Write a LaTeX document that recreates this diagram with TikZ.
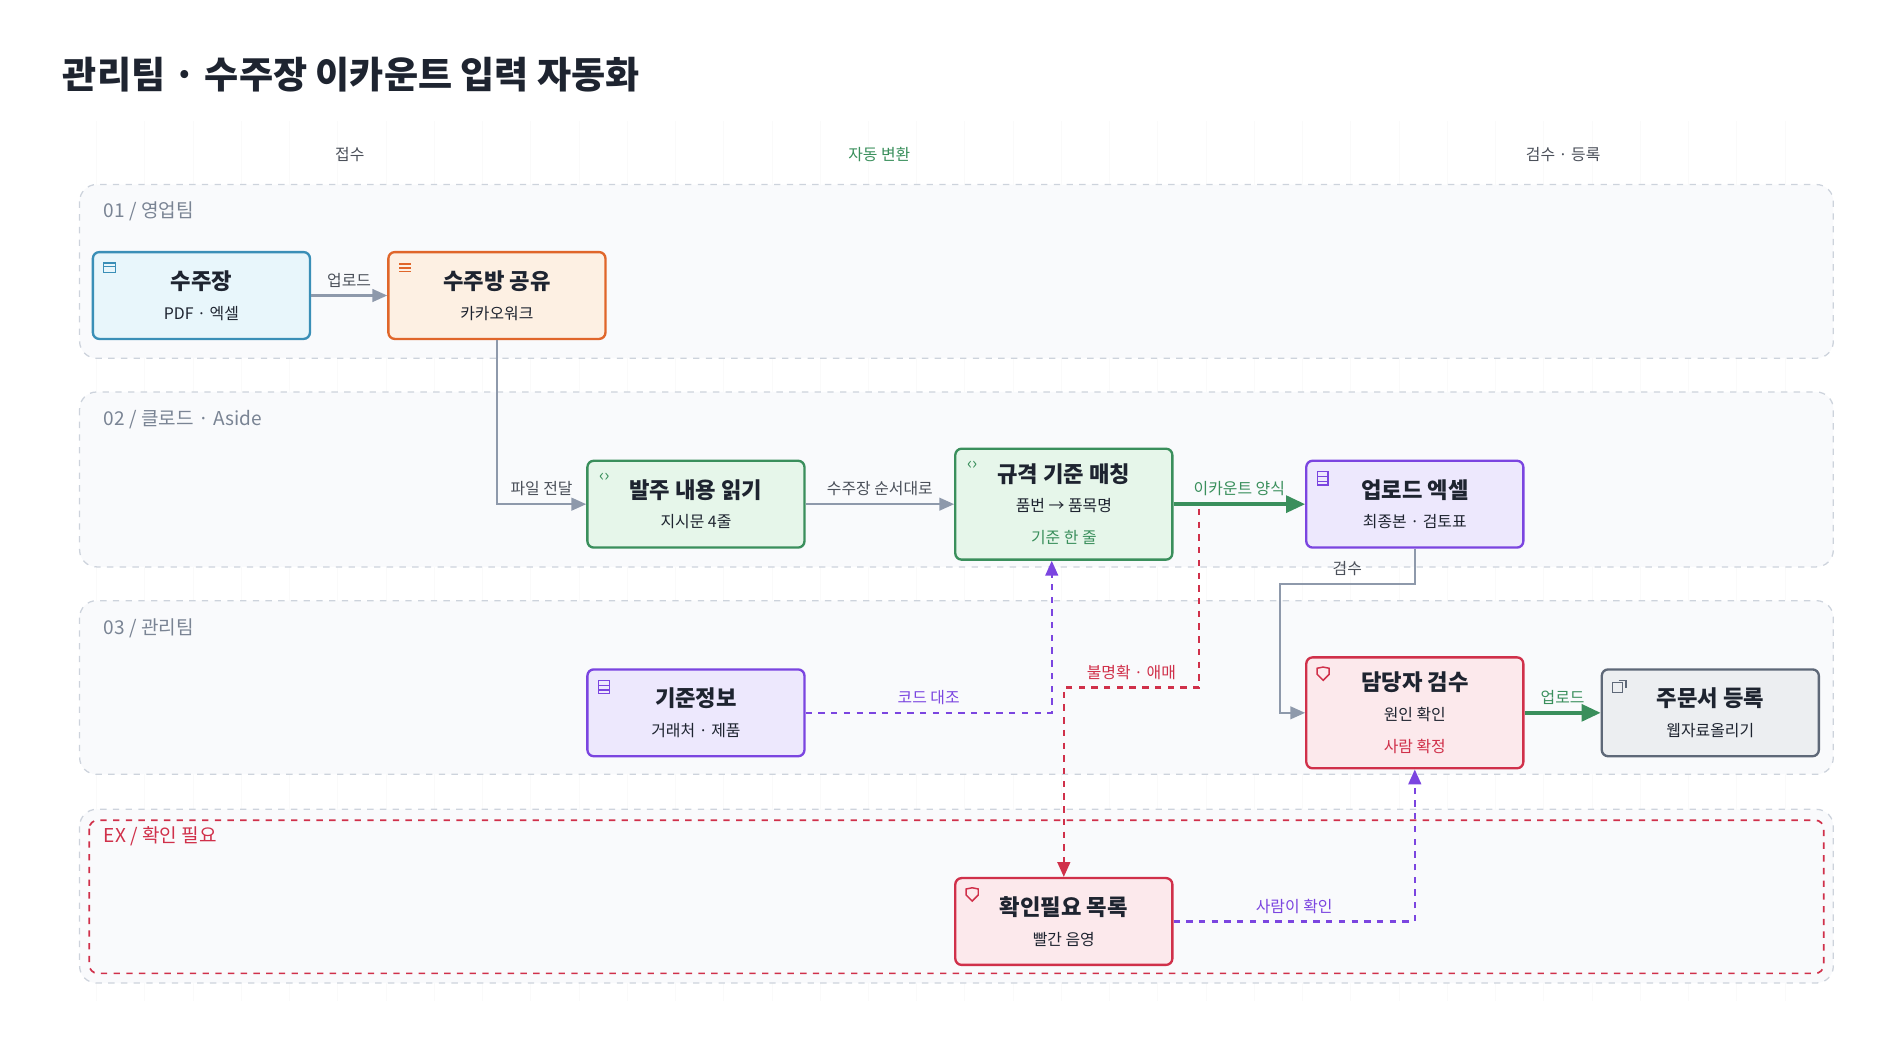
\documentclass[tikz,border=0pt]{standalone}
\usepackage{fontspec}
\setmainfont{Noto Sans CJK KR}
\usetikzlibrary{positioning, arrows.meta}
\definecolor{lanefill}{HTML}{F9FAFC}
\definecolor{lanedraw}{HTML}{CDD3DC}
\definecolor{bluefill}{HTML}{E8F6FB}
\definecolor{bluedraw}{HTML}{3A8FB7}
\definecolor{orfill}{HTML}{FDF0E3}
\definecolor{ordraw}{HTML}{E0662A}
\definecolor{grfill}{HTML}{E6F6EA}
\definecolor{grdraw}{HTML}{3A8F5C}
\definecolor{pufill}{HTML}{EDE8FD}
\definecolor{pudraw}{HTML}{7B45E0}
\definecolor{refill}{HTML}{FCE9EC}
\definecolor{redraw}{HTML}{D0304A}
\definecolor{gyfill}{HTML}{ECEEF1}
\definecolor{gydraw}{HTML}{5E6878}
\definecolor{edgegray}{HTML}{8E99AB}
\definecolor{lanetext}{HTML}{7A8494}
\definecolor{ink}{HTML}{1E2430}
\tikzstyle{lane} = [draw=lanedraw, fill=lanefill, dashed, rounded corners=8pt, line width=0.6pt]
\tikzstyle{box} = [rectangle, rounded corners=3pt, minimum width=3.6cm, minimum height=1.44cm, text centered, align=center, line width=1.1pt, text=ink]
\tikzstyle{arrow} = [line width=1pt, draw=edgegray, -{Triangle[length=7pt,width=6pt]}]
\tikzstyle{garrow} = [line width=1.6pt, draw=grdraw, -{Triangle[length=9pt,width=8pt]}]
\tikzstyle{elabel} = [font=\fontsize{7.5}{9}\selectfont, text=ink!80]
\tikzstyle{lanelabel} = [anchor=west, font=\fontsize{9}{11}\selectfont, text=lanetext]
\newcommand{\btitle}[1]{{\fontsize{10.5}{13}\selectfont\bfseries #1}}
\newcommand{\bsub}[1]{{\fontsize{7.5}{10}\selectfont #1}}

\begin{document}
\begin{tikzpicture}[x=0.02cm, y=-0.02cm]
	\useasboundingbox (0,0) rectangle (1567,862);
	% faint grid
	\draw[black!2, line width=0.4pt, step=40] (48,100) grid (1500,830);

	\node[anchor=west, font=\fontsize{17.5}{20}\selectfont\bfseries, text=ink] (title) at (46,62) {관리팀 · 수주장 이카운트 입력 자동화};
	\node[elabel] (h1) at (290,128) {접수};
	\node[elabel, text=grdraw] (h2) at (729,128) {자동 변환};
	\node[elabel] (h3) at (1296,128) {검수 · 등록};

	% lanes
	\draw[lane] (66,153) rectangle (1520,297);
	\draw[lane] (66,325) rectangle (1520,470);
	\draw[lane] (66,498) rectangle (1520,642);
	\draw[lane] (66,671) rectangle (1520,815);
	\draw[draw=redraw, dashed, line width=0.8pt, rounded corners=4pt] (74,680) rectangle (1512,807);
	\node[lanelabel] (l1) at (80,175) {01 / 영업팀};
	\node[lanelabel] (l2) at (80,348) {02 / 클로드 · Aside};
	\node[lanelabel] (l3) at (80,521) {03 / 관리팀};
	\node[lanelabel, text=redraw] (l4) at (80,693) {EX / 확인 필요};

	% nodes
	\node (order) [box, fill=bluefill, draw=bluedraw] at (167,245) {\btitle{수주장}\\[2pt]\bsub{PDF · 엑셀}};
	\node (room) [box, fill=orfill, draw=ordraw] at (412,245) {\btitle{수주방 공유}\\[2pt]\bsub{카카오워크}};
	\node (read) [box, fill=grfill, draw=grdraw] at (577,418) {\btitle{발주 내용 읽기}\\[2pt]\bsub{지시문 4줄}};
	\node (match) [box, fill=grfill, draw=grdraw, minimum height=1.84cm] at (882,418) {\btitle{규격 기준 매칭}\\[2pt]\bsub{품번 → 품목명}\\[3pt]\bsub{\textcolor{grdraw}{기준 한 줄}}};
	\node (excel) [box, fill=pufill, draw=pudraw] at (1173,418) {\btitle{업로드 엑셀}\\[2pt]\bsub{최종본 · 검토표}};
	\node (master) [box, fill=pufill, draw=pudraw] at (577,591) {\btitle{기준정보}\\[2pt]\bsub{거래처 · 제품}};
	\node (check) [box, fill=refill, draw=redraw, minimum height=1.84cm] at (1173,591) {\btitle{담당자 검수}\\[2pt]\bsub{원인 확인}\\[3pt]\bsub{\textcolor{redraw}{사람 확정}}};
	\node (reg) [box, fill=gyfill, draw=gydraw] at (1418,591) {\btitle{주문서 등록}\\[2pt]\bsub{웹자료올리기}};
	\node (todo) [box, fill=refill, draw=redraw] at (882,764) {\btitle{확인필요 목록}\\[2pt]\bsub{빨간 음영}};

	% icons
	\draw[bluedraw, line width=0.6pt] ([shift={(10,10)}]order.north west) rectangle +(10,8);
	\draw[bluedraw, line width=0.6pt] ([shift={(10,13)}]order.north west) -- +(10,0);
	\foreach \k in {0,3,6} \draw[ordraw, line width=0.8pt] ([shift={(10,11+\k)}]room.north west) -- +(10,0);
	\node[text=grdraw, font=\fontsize{8}{9}\selectfont] (ic1) at ([shift={(15,15)}]read.north west) {‹›};
	\node[text=grdraw, font=\fontsize{8}{9}\selectfont] (ic2) at ([shift={(15,15)}]match.north west) {‹›};
	\foreach \n in {excel, master} {
		\draw[pudraw, line width=0.6pt] ([shift={(10,10)}]\n.north west) rectangle +(9,11);
		\draw[pudraw, line width=0.6pt] ([shift={(10,14)}]\n.north west) -- +(9,0);
		\draw[pudraw, line width=0.6pt] ([shift={(10,18)}]\n.north west) -- +(9,0);
	}
	\foreach \n in {check, todo}
		\draw[redraw, line width=0.7pt] ([shift={(10,10)}]\n.north west) -- +(5,-1) -- +(10,0) -- +(10,5) -- +(5,10) -- +(0,5) -- cycle;
	\draw[gydraw, line width=0.7pt] ([shift={(10,12)}]reg.north west) rectangle +(8,8);
	\draw[gydraw, line width=0.7pt] ([shift={(15,10)}]reg.north west) -- +(6,0) -- +(6,6);

	% edges
	\coordinate (c1) at (412,418);
	\coordinate (c2) at (1173,484);
	\coordinate (c3) at (1061,484);
	\coordinate (c4) at (1061,591);
	\coordinate (c5) at (872,591);
	\coordinate (c6) at (994,422);
	\coordinate (c7) at (994,570);
	\coordinate (c8) at (882,570);
	\coordinate (c9) at (1173,764);

	\draw [arrow] (order) -- node[elabel, above] {업로드} (room);
	\draw [arrow] (room.south) -- (c1) -- node[elabel, above, pos=0.5] {파일 전달} (read.west);
	\draw [arrow] (read) -- node[elabel, above] {수주장 순서대로} (match);
	\draw [garrow] (match) -- node[elabel, above, text=grdraw] {이카운트 양식} (excel);
	\draw [arrow] (excel.south) -- (c2) -- node[elabel, above, pos=0.5] {검수} (c3) -- (c4) -- (check.west);
	\draw [pudraw, dashed, line width=1pt, -{Triangle[length=7pt,width=6pt]}] (master.east) -- node[elabel, above, text=pudraw, pos=0.5] {코드 대조} (c5) -- (match.south -| c5);
	\draw [redraw, dashed, line width=1pt, -{Triangle[length=7pt,width=6pt]}] (c6) -- (c7) -- node[elabel, above, text=redraw] {불명확 · 애매} (c8) -- (todo.north);
	\draw [pudraw, dashed, line width=1pt, -{Triangle[length=7pt,width=6pt]}] (todo.east) -- node[elabel, above, text=pudraw, pos=0.5] {사람이 확인} (c9) -- (check.south);
	\draw [garrow] (check) -- node[elabel, above, text=grdraw] {업로드} (reg);
\end{tikzpicture}
\end{document}
